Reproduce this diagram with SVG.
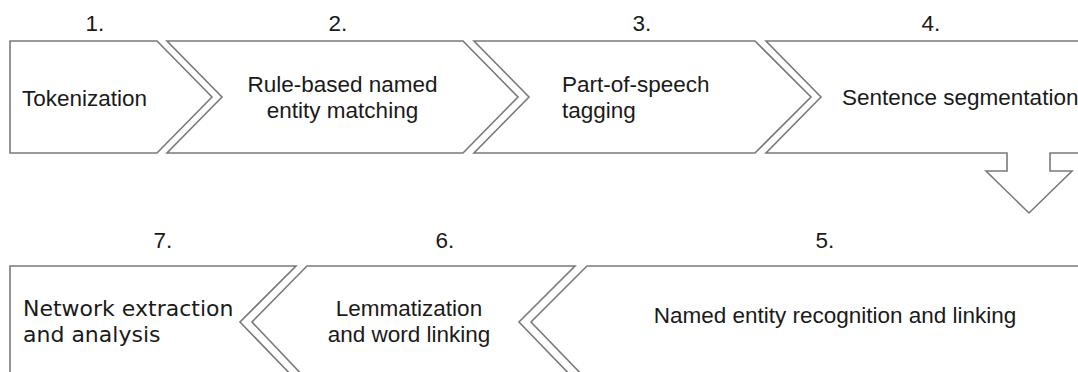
<svg xmlns="http://www.w3.org/2000/svg" width="1078" height="372" viewBox="0 0 1078 372">
  <style>
    .step { fill: #ffffff; stroke: #7a7a7a; stroke-width: 1.6; stroke-linejoin: miter; }
    .num { font-family: "Liberation Sans", Arial, sans-serif; font-size: 22.5px; fill: #1a1a1a; text-anchor: middle; }
    .lbl { font-family: "Liberation Sans", Arial, sans-serif; font-size: 22.5px; fill: #1a1a1a; }
    .lbl-v { font-family: "DejaVu Sans", Verdana, sans-serif; font-size: 22px; fill: #1a1a1a; }
  </style>
  <rect width="1078" height="372" fill="#ffffff"/>

  <!-- upper row, flowing left to right -->
  <g id="step1">
    <path class="step" d="M10,41 L157,41 L212,97 L157,153 L10,153 Z"/>
    <text class="num" x="95" y="31">1.</text>
    <text class="lbl" x="22" y="106">Tokenization</text>
  </g>
  <g id="step2">
    <path class="step" d="M167,41 L463,41 L518,97 L463,153 L167,153 L222,97 Z"/>
    <text class="num" x="338" y="31">2.</text>
    <text class="lbl" x="342.5" y="92" text-anchor="middle">Rule-based named</text>
    <text class="lbl" x="342.5" y="118" text-anchor="middle">entity matching</text>
  </g>
  <g id="step3">
    <path class="step" d="M474,41 L755,41 L811,97 L755,153 L474,153 L529,97 Z"/>
    <text class="num" x="642" y="31">3.</text>
    <text class="lbl" x="562" y="92">Part-of-speech</text>
    <text class="lbl" x="562" y="118">tagging</text>
  </g>
  <g id="step4">
    <!-- outline includes the downward turn toward the lower row -->
    <path class="step" d="M766,41 L1090,41 L1090,153 L1050,153 L1050,171 L1072,171 L1029,213 L986,171 L1007,171 L1007,153 L766,153 L821,97 Z"/>
    <text class="num" x="931" y="31">4.</text>
    <text class="lbl" x="842" y="105">Sentence segmentation</text>
  </g>

  <!-- lower row, flowing right to left -->
  <g id="step5">
    <path class="step" d="M587,266 L1090,266 L1090,380 L587,380 L531,322 Z"/>
    <text class="num" x="825" y="248">5.</text>
    <text class="lbl" x="835" y="323" text-anchor="middle">Named entity recognition and linking</text>
  </g>
  <g id="step6">
    <path class="step" d="M307,266 L575,266 L519,322 L575,380 L307,380 L252,322 Z"/>
    <text class="num" x="445" y="248">6.</text>
    <text class="lbl" x="409" y="316" text-anchor="middle">Lemmatization</text>
    <text class="lbl" x="409" y="342" text-anchor="middle">and word linking</text>
  </g>
  <g id="step7">
    <path class="step" d="M10,266 L296,266 L240,322 L296,380 L10,380 Z"/>
    <text class="num" x="163" y="248">7.</text>
    <text class="lbl-v" x="23" y="316">Network extraction</text>
    <text class="lbl-v" x="23" y="342">and analysis</text>
  </g>

  <g id="connectors"/>
</svg>
